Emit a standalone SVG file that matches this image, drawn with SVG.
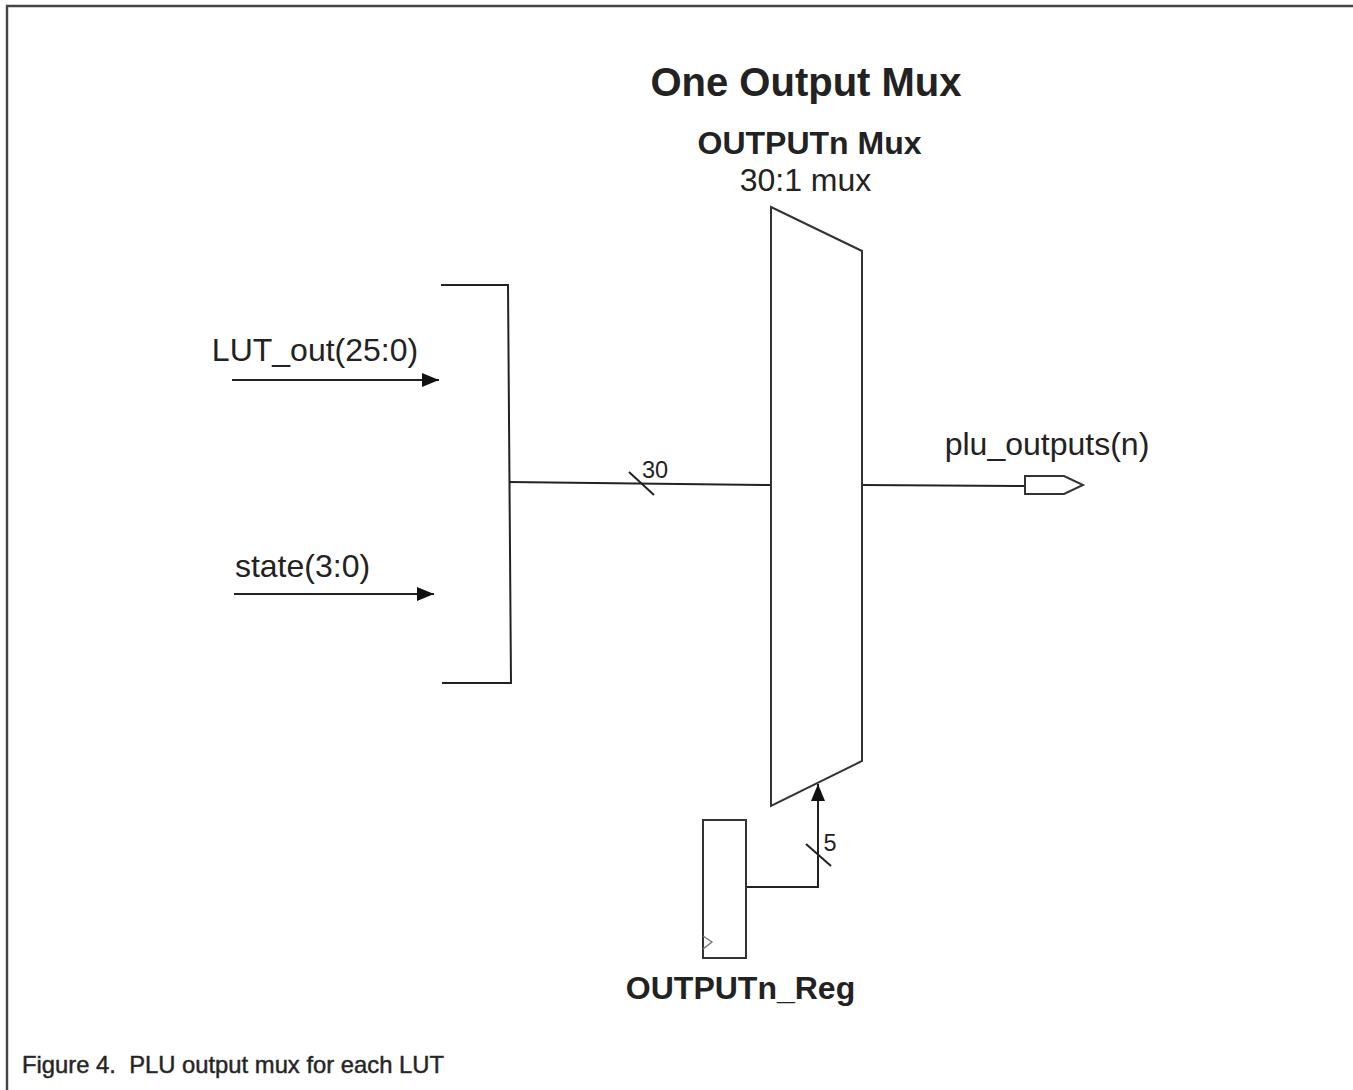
<svg xmlns="http://www.w3.org/2000/svg" width="1353" height="1090" viewBox="0 0 1353 1090">
<defs>
<marker id="arrow" markerUnits="userSpaceOnUse" markerWidth="17" markerHeight="14" refX="17" refY="7" orient="auto"><path d="M0 0L17 7L0 14Z" fill="#111"/></marker>
</defs>
<style>
text{font-family:"Liberation Sans",Arial,sans-serif;fill:#222}
.w{fill:none;stroke:#222;stroke-width:2}
.s{fill:#fff;stroke:#333;stroke-width:2}
.t{font-size:32px}
.b{font-weight:bold}
</style>
<rect width="1353" height="1090" fill="#fff"/>
<path d="M7 1090V6H1353" fill="none" stroke="#444" stroke-width="2.4"/>
<text id="title" x="806" y="96" text-anchor="middle" font-size="40" class="b">One Output Mux</text>
<g id="connectors">
<path class="w" d="M441 285H508L511 683H442"/>
<path class="w" d="M232 380H439" marker-end="url(#arrow)"/>
<path class="w" d="M234 594H434" marker-end="url(#arrow)"/>
<path class="w" d="M509 482L771 485"/>
<path class="w" d="M629 472L654 495"/>
<path class="w" d="M862 485L1025 486"/>
<path class="w" d="M747 887H818V784" marker-end="url(#arrow)"/>
<path class="w" d="M806 844L831 866"/>
</g>
<g id="mux">
<path class="s" d="M771 207L862 251V761L771 806Z"/>
<text x="809.500" y="154" text-anchor="middle" font-size="32" class="b">OUTPUTn Mux</text>
<text x="805.500" y="191" text-anchor="middle" class="t">30:1 mux</text>
</g>
<g id="lut-out"><text x="315" y="361" text-anchor="middle" class="t">LUT_out(25:0)</text></g>
<g id="state"><text x="302.500" y="577" text-anchor="middle" class="t">state(3:0)</text></g>
<g id="bus-30"><text x="655" y="478" text-anchor="middle" font-size="23.500">30</text></g>
<g id="bus-5"><text x="830" y="851" text-anchor="middle" font-size="23.500">5</text></g>
<g id="output">
<path class="s" d="M1025 476H1064L1083 485L1064 494H1025Z"/>
<text x="1047" y="455" text-anchor="middle" class="t">plu_outputs(n)</text>
</g>
<g id="reg">
<rect class="s" x="703" y="820" width="43" height="138"/>
<path d="M703 936L712 942L703 949" fill="none" stroke="#777" stroke-width="1.400"/>
<text x="740.500" y="999" text-anchor="middle" font-size="32" class="b">OUTPUTn_Reg</text>
</g>
<text id="caption" x="22" y="1073" font-size="23.800" style="white-space:pre;stroke:#333;stroke-width:.5">Figure 4.  PLU output mux for each LUT</text>
</svg>
